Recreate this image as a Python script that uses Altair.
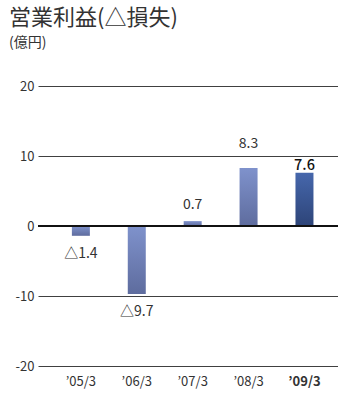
import altair as alt
import pandas as pd

years = ["’05/3", "’06/3", "’07/3", "’08/3", "’09/3"]
values = [-1.4, -9.7, 0.7, 8.3, 7.6]
highlight = [False, False, False, False, True]

df = pd.DataFrame({"year": years, "v": values, "hl": highlight})

FONT = "Noto Sans CJK JP"

grad_normal = {
    "gradient": "linear", "x1": 0, "y1": 0, "x2": 0, "y2": 1,
    "stops": [{"offset": 0, "color": "#7F92CC"}, {"offset": 1, "color": "#5E6C9E"}],
}
grad_hl = {
    "gradient": "linear", "x1": 0, "y1": 0, "x2": 0, "y2": 1,
    "stops": [{"offset": 0, "color": "#4667AC"}, {"offset": 1, "color": "#2D4478"}],
}

x_enc = alt.X(
    "year:N", sort=years, title=None,
    scale=alt.Scale(paddingInner=0.678, paddingOuter=0.5225, align=0.58),
    axis=alt.Axis(
        domain=False, ticks=False, labelAngle=0, labelFontSize=13, labelColor="#333333",
        labelFont=FONT, labelPadding=9,
        labelFontWeight=alt.ExprRef("datum.value == '’09/3' ? 'bold' : 'normal'"),
    ),
)
y_scale = alt.Scale(domain=[-20, 20])

base = alt.Chart(df)

bars_n = base.transform_filter("!datum.hl").mark_bar(color=grad_normal).encode(
    x=x_enc,
    y=alt.Y("v:Q", scale=y_scale, title=None,
            axis=alt.Axis(values=[-20, -10, 0, 10, 20], domain=False, ticks=False,
                          grid=True, gridColor="#404040", gridWidth=1, gridOpacity=1,
                          labelFontSize=13, labelColor="#333333", labelFont=FONT,
                          labelPadding=4,
                          labelExpr="replace(datum.label, '−', '-')")),
)
bars_h = base.transform_filter("datum.hl").mark_bar(color=grad_hl).encode(
    x=alt.X("year:N", sort=years), y=alt.Y("v:Q", scale=y_scale),
)

zero = alt.Chart(pd.DataFrame({"z": [0]})).mark_rule(color="#111111", strokeWidth=2).encode(
    y=alt.Y("z:Q", scale=y_scale)
)

labeled = base.transform_calculate(
    label="datum.v < 0 ? '△' + format(abs(datum.v), '.1f') : format(datum.v, '.1f')",
    raw="datum.v < 0 ? datum.v - 2.6 : (datum.hl ? datum.v + 1.0 : datum.v + 2.3)",
    ly="(!datum.hl && datum.v > 0 && abs(datum.raw - round(datum.raw / 10) * 10) < 1.5) ? round(datum.raw / 10) * 10 + 1.7 : datum.raw",
)

text_n = labeled.transform_filter("!datum.hl").mark_text(
    font=FONT, fontSize=14, color="#333333", baseline="middle"
).encode(x=alt.X("year:N", sort=years), y=alt.Y("ly:Q", scale=y_scale), text="label:N")

text_h = labeled.transform_filter("datum.hl").mark_text(
    font=FONT, fontSize=14.5, fontWeight=500, color="#111111", baseline="middle"
).encode(x=alt.X("year:N", sort=years), y=alt.Y("ly:Q", scale=y_scale), text="label:N")

chart = alt.layer(bars_n, bars_h, zero, text_n, text_h).properties(
    width=300, height=280,
    autosize=alt.AutoSizeParams(type="none"),
    padding={"left": 38, "top": 86, "right": 0, "bottom": 28},
    title=alt.TitleParams(
        text="営業利益(△損失)", subtitle="(億円)", anchor="start", frame="group",
        font=FONT, fontSize=22, fontWeight="normal", color="#333333",
        subtitleFont=FONT, subtitleFontSize=14, subtitleColor="#333333",
        subtitlePadding=6, offset=29, dx=-29,
    ),
).configure_view(stroke=None)

chart.save("out.html", embed_options={"renderer": "svg", "actions": False})
